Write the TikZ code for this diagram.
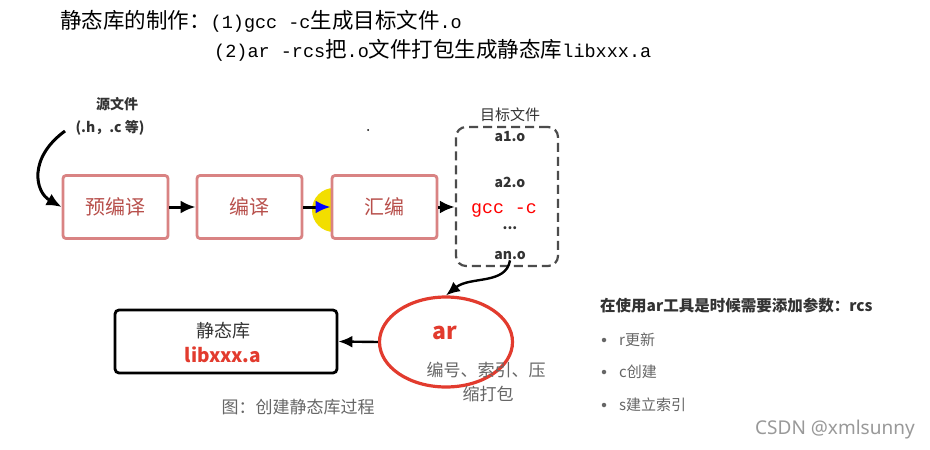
\documentclass[tikz,border=0pt]{standalone}
\usepackage{fontspec}
\setmainfont{Noto Sans}
\newfontfamily\cjk{Noto Sans CJK SC}
\newfontfamily\monof{Liberation Mono}
\usetikzlibrary{arrows.meta,shapes.geometric}
\definecolor{boxred}{HTML}{D98383}
\definecolor{boxtext}{HTML}{B8504C}
\definecolor{arred}{HTML}{E23B2E}
\definecolor{hlyellow}{HTML}{F2DE00}
\definecolor{dgrey}{HTML}{333333}
\definecolor{mgrey}{HTML}{666666}
\newcommand\ttlcjk[1]{{\cjk\fontsize{21.5}{24}\selectfont #1}}
\newcommand\ttlmono[1]{{\monof\fontsize{18.5}{22}\selectfont #1}}
\tikzset{
  procbox/.style={draw=boxred, line width=2.8pt, fill=white, rounded corners=3pt,
    minimum width=105pt, minimum height=63pt, inner sep=0pt, text=boxtext,
    font=\cjk\fontsize{20}{24}\selectfont},
  arr/.style={line width=3pt, -{Latex[length=15pt,width=13pt]}},
  thinarr/.style={line width=2.4pt, -{Latex[length=14pt,width=12pt]}},
  lbl/.style={inner sep=0pt},
}
\begin{document}
\begin{tikzpicture}[x=1pt,y=-1pt]
\useasboundingbox (0,0) rectangle (930,450);
\fill[white] (0,0) rectangle (930,450);

% title
\node[lbl, anchor=west] (t1) at (60,21) {\ttlcjk{静态库的制作：}\ttlmono{(1)gcc -c}\ttlcjk{生成目标文件}\ttlmono{.o}};
\node[lbl, anchor=west] (t2) at (214,50) {\ttlmono{(2)ar -rcs}\ttlcjk{把}\ttlmono{.o}\ttlcjk{文件打包生成静态库}\ttlmono{libxxx.a}};

% source files
\node[lbl, text=dgrey, font=\cjk\bfseries\fontsize{14}{16}\selectfont] (src1) at (117,104) {源文件};
\node[lbl, text=dgrey, font=\cjk\bfseries\fontsize{14}{16}\selectfont] (src2) at (110,128) {(.h，.c 等)};
\coordinate (s0) at (65,131);

% yellow highlight
\fill[hlyellow] (334,210) circle (22pt);

% process boxes
\node[procbox] (pre) at (115.5,207) {预编译};
\node[procbox] (comp) at (249.5,207) {编译};
\node[procbox] (asm) at (384.5,207) {汇编};

% object files box
\node[draw=black!70, dashed, dash pattern=on 9pt off 5pt, line width=2.2pt, rounded corners=10pt,
      minimum width=102pt, minimum height=139pt, inner sep=0pt] (obj) at (507,196.5) {};
\node[lbl, text=dgrey, font=\cjk\fontsize{15}{17}\selectfont] (objt) at (510,115) {目标文件};
\node[lbl, text=dgrey, font=\cjk\bfseries\fontsize{14}{16}\selectfont] (a1) at (510,137) {a1.o};
\node[lbl, text=dgrey, font=\cjk\bfseries\fontsize{14}{16}\selectfont] (a2) at (510,182) {a2.o};
\node[lbl, text=red, font=\monof\fontsize{18.3}{20}\selectfont] (gcc) at (504,210) {gcc -c};
\node[lbl, text=dgrey, font=\cjk\bfseries\fontsize{14}{16}\selectfont] (dots) at (510,228) {...};
\node[lbl, text=dgrey, font=\cjk\bfseries\fontsize{14}{16}\selectfont] (an) at (510,256) {an.o};

% arrows
\draw[arr] (s0) .. controls (28,158) and (35,192) .. (pre.west);
\draw[arr] (pre.east) -- (comp.west);
\draw[line width=3pt, -{Latex[length=15pt,width=13pt,color=blue]}] (comp.east) -- (asm.west);
\draw[arr] (asm.east) -- (asm.east -| obj.west);

% ar ellipse
\node[ellipse, draw=arred, line width=3.2pt, minimum width=133pt, minimum height=90pt, inner sep=0pt] (ar) at (446,342) {};
\node[lbl, text=arred, font=\cjk\bfseries\fontsize{23}{26}\selectfont] (art) at (445,333) {ar};
\node[lbl, text=mgrey, font=\cjk\fontsize{17}{19}\selectfont] (ard1) at (486,370) {编号、索引、压};
\node[lbl, text=mgrey, font=\cjk\fontsize{17}{19}\selectfont] (ard2) at (488,394) {缩打包};
\draw[thinarr] (an.south) .. controls (506,285) and (470,276) .. (ar.north);

% static library box
\node[draw=black, line width=2.8pt, rounded corners=4pt, minimum width=222pt, minimum height=63pt, inner sep=0pt] (lib) at (226,341.5) {};
\node[lbl, text=dgrey, font=\cjk\fontsize{18}{20}\selectfont] (libt) at (223,331) {静态库};
\node[lbl, text=arred, font=\cjk\bfseries\fontsize{19}{22}\selectfont] (libn) at (223,355) {libxxx.a};
\draw[thinarr] (ar.west) -- (lib.east);

\node[lbl, text=mgrey, font=\cjk\fontsize{17}{19}\selectfont] (cap) at (298,407) {图：创建静态库过程};

% right notes
\node[lbl, anchor=west, text=dgrey, font=\cjk\bfseries\fontsize{15.5}{18}\selectfont] (note) at (600,306) {在使用ar工具是时候需要添加参数：rcs};
\node[circle, fill=mgrey, inner sep=0pt, minimum size=4.5pt] (b1) at (604,340) {};
\node[circle, fill=mgrey, inner sep=0pt, minimum size=4.5pt] (b2) at (604,372) {};
\node[circle, fill=mgrey, inner sep=0pt, minimum size=4.5pt] (b3) at (604,405) {};
\node[lbl, anchor=west, text=mgrey, font=\cjk\fontsize{15}{18}\selectfont] (r1) at (619,340) {r更新};
\node[lbl, anchor=west, text=mgrey, font=\cjk\fontsize{15}{18}\selectfont] (r2) at (619,372) {c创建};
\node[lbl, anchor=west, text=mgrey, font=\cjk\fontsize{15}{18}\selectfont] (r3) at (619,405) {s建立索引};

\node[lbl, anchor=west, text=black!40, font=\fontsize{19}{22}\selectfont] (csdn) at (755,430) {CSDN @xmlsunny};

\fill[black] (368,130) circle (1pt);
\end{tikzpicture}
\end{document}
